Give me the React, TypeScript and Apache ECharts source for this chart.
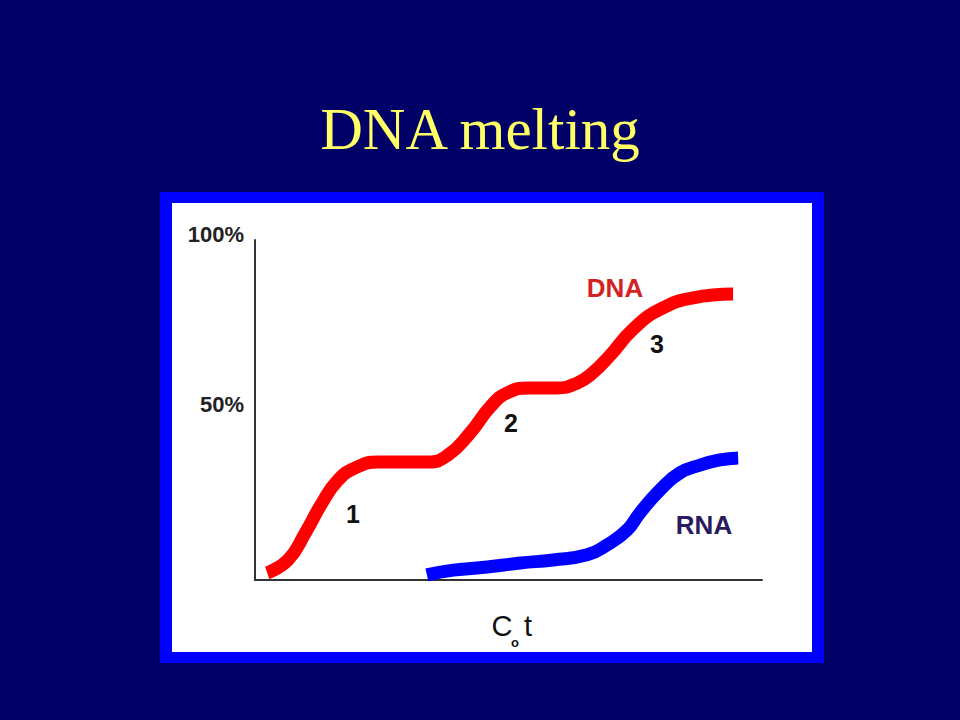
import React, { useEffect, useRef } from "react";
import * as echarts from "echarts";

// Relative C0t position (0-100) and % renatured (0-100)
const dnaX = [2.4, 6.5, 9.9, 13.2, 16.4, 19.7, 24.3, 29.6, 34.1, 38.1, 42.4, 46.4, 49.7, 54.2, 59.6, 63.5, 66.5, 70.0, 74.6, 79.9, 86.4, 94.3];
const dnaY = [2.1, 5.9, 13.8, 22.6, 29.4, 32.9, 34.7, 34.7, 34.7, 36.8, 43.2, 50.9, 55.0, 56.5, 56.5, 57.9, 60.8, 66.0, 73.8, 79.6, 83.0, 84.1];
const rnaX = [33.9, 39.1, 45.8, 52.3, 58.8, 65.5, 69.4, 73.4, 75.9, 79.9, 83.8, 87.8, 91.7, 95.3];
const rnaY = [1.5, 2.9, 3.8, 5.0, 5.9, 7.4, 10.3, 14.7, 19.7, 26.5, 31.5, 33.8, 35.3, 35.9];
const yTickLabels: Record<number, string> = { 50: "50%", 100: "100%" };
const title = "DNA melting";
const curveLabels = ["1", "2", "3"];

const SANS = "'Liberation Sans', Arial, Helvetica, sans-serif";

export default function App() {
  const ref = useRef<HTMLDivElement>(null);
  useEffect(() => {
    if (!ref.current) return;
    const chart = echarts.init(ref.current, undefined, { renderer: "svg" });
    const dna = dnaX.map((x, i) => [x, dnaY[i]]);
    const rna = rnaX.map((x, i) => [x, rnaY[i]]);
    chart.setOption({
      animation: false,
      backgroundColor: "#000066",
      title: {
        text: title,
        left: "center",
        top: 94,
        textStyle: {
          color: "#FFFF66",
          fontFamily: "'Liberation Serif', 'Times New Roman', serif",
          fontWeight: "normal",
          fontSize: 59,
        },
      },
      graphic: [
        { type: "rect", z: -10, shape: { x: 160, y: 192, width: 664, height: 471 }, style: { fill: "#0000FF" } },
        { type: "rect", z: -9, shape: { x: 172, y: 203, width: 640, height: 449 }, style: { fill: "#FFFFFF" } },
        { type: "text", x: 615, y: 288, style: { text: "DNA", fill: "#D42222", font: `bold 26px ${SANS}`, textAlign: "center", textVerticalAlign: "middle" } },
        { type: "text", x: 704, y: 525, style: { text: "RNA", fill: "#2A1A5E", font: `bold 26px ${SANS}`, textAlign: "center", textVerticalAlign: "middle" } },
        { type: "text", x: 353, y: 514, style: { text: curveLabels[0], fill: "#111111", font: `bold 25px ${SANS}`, textAlign: "center", textVerticalAlign: "middle" } },
        { type: "text", x: 511, y: 423, style: { text: curveLabels[1], fill: "#111111", font: `bold 25px ${SANS}`, textAlign: "center", textVerticalAlign: "middle" } },
        { type: "text", x: 657, y: 344, style: { text: curveLabels[2], fill: "#111111", font: `bold 25px ${SANS}`, textAlign: "center", textVerticalAlign: "middle" } },
        { type: "text", x: 502, y: 626, style: { text: "C", fill: "#111111", font: `29px ${SANS}`, textAlign: "center", textVerticalAlign: "middle" } },
        { type: "text", x: 515, y: 642, style: { text: "o", fill: "#111111", font: `bold 13px ${SANS}`, textAlign: "center", textVerticalAlign: "middle" } },
        { type: "text", x: 528, y: 626, style: { text: "t", fill: "#111111", font: `29px ${SANS}`, textAlign: "center", textVerticalAlign: "middle" } },
      ],
      grid: { left: 255, right: 198, top: 240, bottom: 140, containLabel: false },
      xAxis: {
        type: "value",
        min: 0,
        max: 100,
        axisLine: { show: true, lineStyle: { color: "#333333", width: 2 } },
        axisTick: { show: false },
        axisLabel: { show: false },
        splitLine: { show: false },
      },
      yAxis: {
        type: "value",
        min: 0,
        max: 100,
        interval: 50,
        axisLine: { show: true, lineStyle: { color: "#333333", width: 2 } },
        axisTick: { show: false },
        splitLine: { show: false },
        axisLabel: {
          margin: 11,
          formatter: (v: number) => yTickLabels[v] ?? "",
          color: "#222222",
          fontFamily: SANS,
          fontWeight: "bold",
          fontSize: 22,
          verticalAlign: "bottom",
          lineHeight: 12,
        },
      },
      series: [
        {
          type: "line",
          name: "DNA",
          data: dna,
          smooth: 0.5,
          showSymbol: false,
          symbol: "none",
          lineStyle: { color: "#FF0000", width: 13, cap: "butt", join: "round" },
          z: 3,
        },
        {
          type: "line",
          name: "RNA",
          data: rna,
          smooth: 0.5,
          showSymbol: false,
          symbol: "none",
          lineStyle: { color: "#0000FF", width: 13, cap: "butt", join: "round" },
          z: 3,
        },
      ],
    });
    return () => chart.dispose();
  }, []);
  return <div ref={ref} style={{ position: "fixed", left: 0, top: 0, width: 960, height: 720 }} />;
}
